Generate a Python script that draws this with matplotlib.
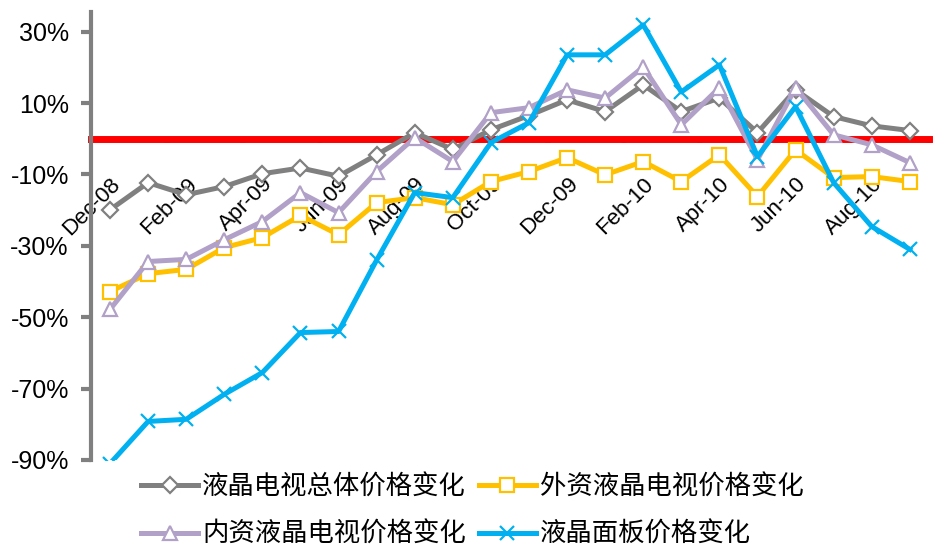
import numpy as np
import matplotlib
matplotlib.use("Agg")
import matplotlib.pyplot as plt

plt.rcParams['font.family'] = ['Liberation Sans', 'Noto Sans CJK SC', 'DejaVu Sans']

months = ["Dec-08", "Jan-09", "Feb-09", "Mar-09", "Apr-09", "May-09", "Jun-09", "Jul-09",
          "Aug-09", "Sep-09", "Oct-09", "Nov-09", "Dec-09", "Jan-10", "Feb-10", "Mar-10",
          "Apr-10", "May-10", "Jun-10", "Jul-10", "Aug-10", "Sep-10"]

total = [-19.9, -12.3, -15.7, -13.4, -9.8, -8.2, -10.5, -4.5, 1.7, -3.0, 2.5, 6.5,
         10.9, 7.6, 15.1, 7.6, 11.4, 1.7, 13.7, 6.2, 3.6, 2.3]
foreign = [-42.8, -37.8, -36.6, -30.5, -27.7, -21.5, -26.9, -17.9, -16.5, -18.5, -12.0, -9.2,
           -5.3, -10.1, -6.4, -12.0, -4.5, -16.2, -3.1, -10.9, -10.6, -12.0]
domestic = [-47.8, -34.4, -33.8, -28.3, -23.2, -15.1, -20.7, -9.2, 0.3, -6.4, 7.3, 8.7,
            13.7, 11.4, 20.1, 3.9, 14.3, -5.9, 14.3, 1.1, -1.7, -6.7]
panel = [-91.0, -79.2, -78.6, -71.6, -65.5, -54.3, -54.0, -34.0, -15.1, -16.5, -1.1, 4.5,
         23.5, 23.5, 31.9, 13.1, 20.7, -5.0, 9.0, -12.3, -24.6, -31.0]

names = ["液晶电视总体价格变化", "外资液晶电视价格变化", "内资液晶电视价格变化", "液晶面板价格变化"]

x = np.arange(len(months))

fig = plt.figure(figsize=(9.43, 5.48), dpi=100)
ax = fig.add_axes([0.0965, 0.1606, 0.8885, 0.8175])

l1, = ax.plot(x, total, color="#808080", lw=3.6, marker="D", ms=8, mfc="white",
              mec="#808080", mew=1.6, zorder=3, label=names[0])
l2, = ax.plot(x, foreign, color="#FFC000", lw=3.6, marker="s", ms=10, mfc="white",
              mec="#FFC000", mew=1.6, zorder=3, label=names[1])
l3, = ax.plot(x, domestic, color="#B1A0C7", lw=3.6, marker="^", ms=10, mfc="white",
              mec="#B1A0C7", mew=1.6, zorder=3, label=names[2])
l4, = ax.plot(x, panel, color="#00B0F0", lw=3.6, marker="x", ms=10,
              mec="#00B0F0", mew=1.6, zorder=3, label=names[3])

ax.set_xlim(-0.5, len(months) - 0.5)
ax.set_ylim(-90, 35.5)

# y axis
ax.set_yticks(np.arange(-90, 31, 20))
ax.set_yticklabels([f"{v}%" for v in range(-90, 31, 20)], fontsize=18)
ax.tick_params(axis="y", colors="#808080", width=3, length=7, pad=9, labelcolor="black")
ax.spines["left"].set_color("#808080")
ax.spines["left"].set_linewidth(3)
ax.spines["top"].set_visible(False)
ax.spines["right"].set_visible(False)

# x axis at zero, red
ax.spines["bottom"].set_position(("data", 0))
ax.spines["bottom"].set_color("#FF0000")
ax.spines["bottom"].set_linewidth(5)
ax.spines["bottom"].set_zorder(2)
ax.set_xticks(np.arange(-0.5, len(months), 2))
ax.set_xticklabels([])
ax.tick_params(axis="x", which="major", colors="#FF0000", width=4, length=3)
ax.set_xticks(x[::2], minor=True)
ax.set_xticklabels(months[::2], minor=True, fontsize=16, rotation=45,
                   ha="right", va="top", rotation_mode="anchor")
ax.tick_params(axis="x", which="minor", length=0, pad=25)

fig.legend([l1, l3, l2, l4], [names[0], names[2], names[1], names[3]],
           ncol=2, loc="upper left", bbox_to_anchor=(0.136, 0.158),
           frameon=False, fontsize=19, handlelength=2.15, handletextpad=0.15,
           columnspacing=0.5, labelspacing=0.85, borderpad=0)

fig.savefig("out.png", dpi=100)
